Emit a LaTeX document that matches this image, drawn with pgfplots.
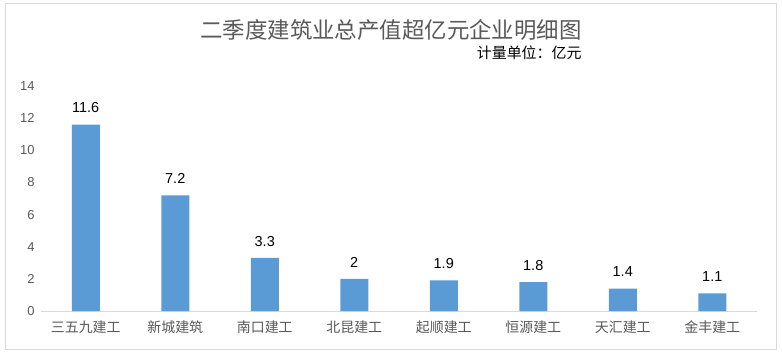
\documentclass[border=0pt]{standalone}
\usepackage{fontspec}
\setmainfont{Liberation Sans}
\newfontfamily\cjk{Noto Sans CJK SC}
\usepackage{pgfplots}
\pgfplotsset{compat=1.18}
\definecolor{barblue}{HTML}{5B9BD5}
\definecolor{txtgray}{HTML}{595959}
\definecolor{linegray}{HTML}{D9D9D9}
\begin{document}
\begin{tikzpicture}[x=1bp,y=1bp]
\path (0,0) rectangle (782,356);
\draw[linegray, line width=1bp] (5,7) rectangle (776,352);
\node[txtgray] at (391,326) {\cjk\fontsize{22.5}{22.5}\selectfont 二季度建筑业总产值超亿元企业明细图};
\node[anchor=east, black] at (585,303) {\cjk\fontsize{15}{15}\selectfont 计量单位：亿元};
\begin{axis}[
  at={(41bp,45bp)}, anchor=south west,
  scale only axis, width=716bp, height=225bp,
  xmin=-0.5, xmax=7.5, ymin=0, ymax=14,
  ytick={0,2,...,14}, xtick={0,...,7},
  xticklabels={三五九建工,新城建筑,南口建工,北昆建工,起顺建工,恒源建工,天汇建工,金丰建工},
  /pgf/number format/assume math mode=true,
  axis x line*=bottom, axis y line*=left,
  y axis line style={draw=none},
  x axis line style={draw=linegray, line width=1bp, -},
  major tick length=0,
  yticklabel style={font=\fontsize{13}{13}\selectfont, txtgray, xshift=-3bp},
  xticklabel style={font=\cjk\fontsize{14}{14}\selectfont, txtgray, yshift=-6bp},
  ybar, bar width=28bp,
  nodes near coords,
  nodes near coords style={font=\fontsize{14.5}{14.5}\selectfont, black, yshift=8bp},
  clip=false,
]
\addplot[fill=barblue, draw=none] coordinates {(0,11.6) (1,7.2) (2,3.3) (3,2) (4,1.9) (5,1.8) (6,1.4) (7,1.1)};
\end{axis}
\end{tikzpicture}
\end{document}
